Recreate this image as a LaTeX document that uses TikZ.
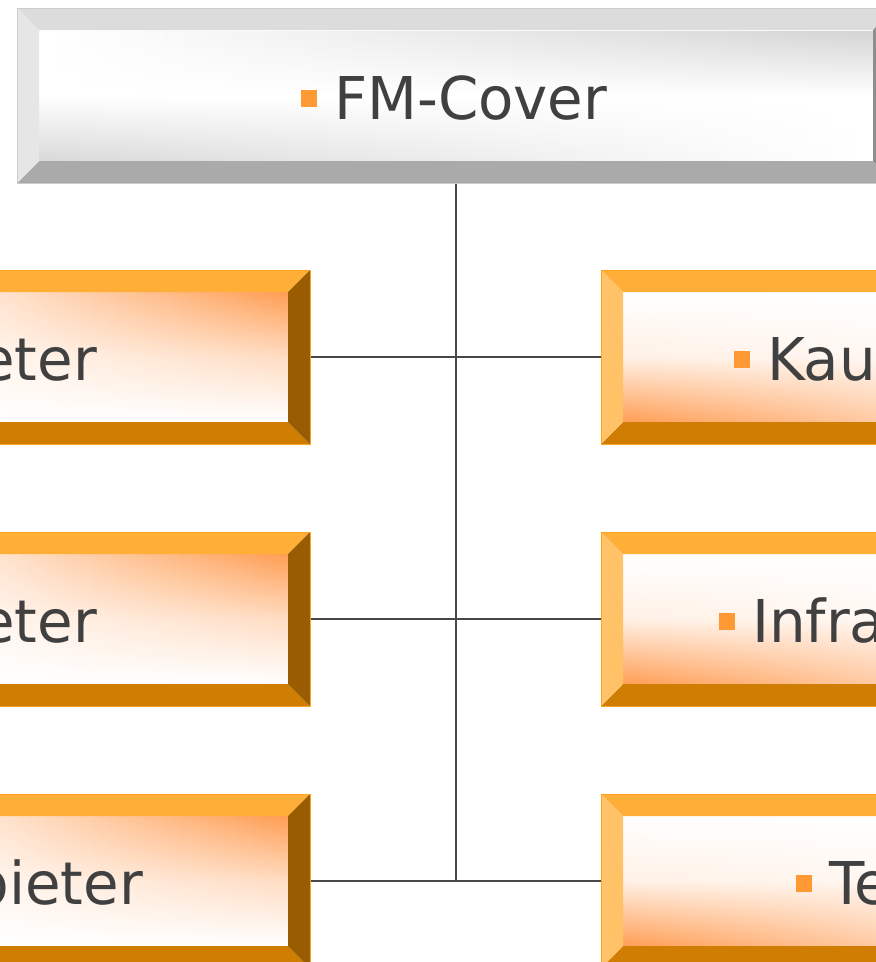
\documentclass[tikz,border=0pt]{standalone}
\usepackage{fontspec}
\usetikzlibrary{calc}
\newfontfamily\lab[FakeStretch=0.98]{DejaVu Sans}
\definecolor{txt}{HTML}{404040}
\definecolor{bulc}{HTML}{FF9933}
\definecolor{linec}{HTML}{484848}
\definecolor{gtop}{HTML}{DCDCDC}
\definecolor{gleft}{HTML}{E6E6E6}
\definecolor{gbot}{HTML}{AAAAAA}
\definecolor{gright}{HTML}{8E8E8E}
\definecolor{gborder}{HTML}{CCCCCC}
\definecolor{gfaceA}{HTML}{D9D9D9}
\definecolor{gfaceB}{HTML}{D4D4D4}
\definecolor{otop}{HTML}{FFAE38}
\definecolor{oleft}{HTML}{FFC266}
\definecolor{obot}{HTML}{CF7D03}
\definecolor{oright}{HTML}{9A5C00}
\definecolor{oborder}{HTML}{FFA320}
\definecolor{oface}{HTML}{FF9E55}
\definecolor{ofacelt}{HTML}{FFE2CC}
\definecolor{ofacemd}{HTML}{FFC9A2}
\newcommand\bul{\textcolor{bulc}{\rule[12pt]{16pt}{17pt}}\hspace{17pt}}
\def\midw{50}
% strips: x1,x2,y1,y2, top colour at x1, top colour at x2, bottom colour at x1, bottom colour at x2
\newcommand\stripface[8]{%
  \pgfmathsetmacro\stw{(#2-#1)/40}
  \foreach \i in {0,...,39}{
    \pgfmathsetmacro\pa{100-\i*100/39}
    \pgfmathsetmacro\xa{#1+\stw*\i}
    \pgfmathsetmacro\xb{#1+\stw*(\i+1)+0.8}
    \colorlet{stT}{#5!\pa!#6}
    \colorlet{stB}{#7!\pa!#8}
    \colorlet{stA}{stT!50!stB}
    \colorlet{stM}{stA!\midw!white}
    \shade[top color=stT, bottom color=stB, middle color=stM] (\xa,#3) rectangle (\xb,#4);
  }}
\newcommand\bev[6]{%
  \fill[#2] (#1.north west) -- (#1.north east) -- ($(#1.north east)+(-22,22)$) -- ($(#1.north west)+(22,22)$) -- cycle;
  \fill[#4] (#1.south west) -- (#1.south east) -- ($(#1.south east)+(-22,-22)$) -- ($(#1.south west)+(22,-22)$) -- cycle;
  \fill[#3] (#1.north west) -- ($(#1.north west)+(22,22)$) -- ($(#1.south west)+(22,-22)$) -- (#1.south west) -- cycle;
  \fill[#5] (#1.north east) -- ($(#1.north east)+(-22,22)$) -- ($(#1.south east)+(-22,-22)$) -- (#1.south east) -- cycle;
  \draw[#6, line width=0.8pt] (#1.north west) rectangle (#1.south east);}
\begin{document}
\begin{tikzpicture}[x=1pt,y=-1pt,
  box/.style={rectangle,draw=none,inner sep=0pt,outer sep=0pt,minimum height=175pt},
  lbl/.style={inner sep=0pt,outer sep=0pt,font=\lab\fontsize{59}{70}\selectfont,text=txt},
  conn/.style={draw=linec,line width=2pt}]
\useasboundingbox (0,0) rectangle (876,962);
\clip (0,0) rectangle (876,962);
\fill[white] (0,0) rectangle (876,962);
% box nodes
\node[box,minimum width=878pt] (top) at (456,95.5) {};
\node[box,minimum width=420pt,minimum height=174pt] (l1) at (100,357) {};
\node[box,minimum width=420pt,minimum height=174pt] (l2) at (100,619) {};
\node[box,minimum width=420pt,minimum height=174pt] (l3) at (100,881) {};
\node[box,minimum width=420pt,minimum height=174pt] (r1) at (811,357) {};
\node[box,minimum width=420pt,minimum height=174pt] (r2) at (811,619) {};
\node[box,minimum width=420pt,minimum height=174pt] (r3) at (811,881) {};
% connectors
\draw[conn] (top.south) -- (top.south |- l3.east);
\draw[conn] (l1.east) -- (r1.west);
\draw[conn] (l2.east) -- (r2.west);
\draw[conn] (l3.east) -- (r3.west);
% top box
\def\midw{0}
\stripface{39}{873}{31}{161}{white}{gfaceB}{gfaceA}{white}
\bev{top}{gtop}{gleft}{gbot}{gright}{gborder}
% left boxes
\def\midw{70}
\fill[ofacelt] (-90,292) rectangle (0,422);
\stripface{0}{288}{292}{422}{ofacelt}{oface}{white}{white}
\fill[ofacelt] (-90,554) rectangle (0,684);
\stripface{0}{288}{554}{684}{ofacelt}{oface}{white}{white}
\fill[ofacelt] (-90,816) rectangle (0,946);
\stripface{0}{288}{816}{946}{ofacelt}{oface}{white}{white}
\bev{l1}{otop}{oleft}{obot}{oright}{oborder}
\bev{l2}{otop}{oleft}{obot}{oright}{oborder}
\bev{l3}{otop}{oleft}{obot}{oright}{oborder}
% right boxes
\def\midw{30}
\stripface{622}{880}{292}{422}{white}{white}{oface}{ofacemd}
\stripface{622}{880}{554}{684}{white}{white}{oface}{ofacemd}
\stripface{622}{880}{816}{946}{white}{white}{oface}{ofacemd}
\bev{r1}{otop}{oleft}{obot}{oright}{oborder}
\bev{r2}{otop}{oleft}{obot}{oright}{oborder}
\bev{r3}{otop}{oleft}{obot}{oright}{oborder}
% labels
\node[lbl,anchor=base west] (t0) at (301,119) {\bul FM-Cover};
\node[lbl,anchor=base east] (tl1) at (97,380) {eter};
\node[lbl,anchor=base east] (tl2) at (97,642) {eter};
\node[lbl,anchor=base east] (tl3) at (143,904) {bieter};
\node[lbl,anchor=base west] (tr1) at (734,380) {\bul Kau};
\node[lbl,anchor=base west] (tr2) at (719,642) {\bul Infra};
\node[lbl,anchor=base west] (tr3) at (796,904) {\bul Te};
\end{tikzpicture}
\end{document}
